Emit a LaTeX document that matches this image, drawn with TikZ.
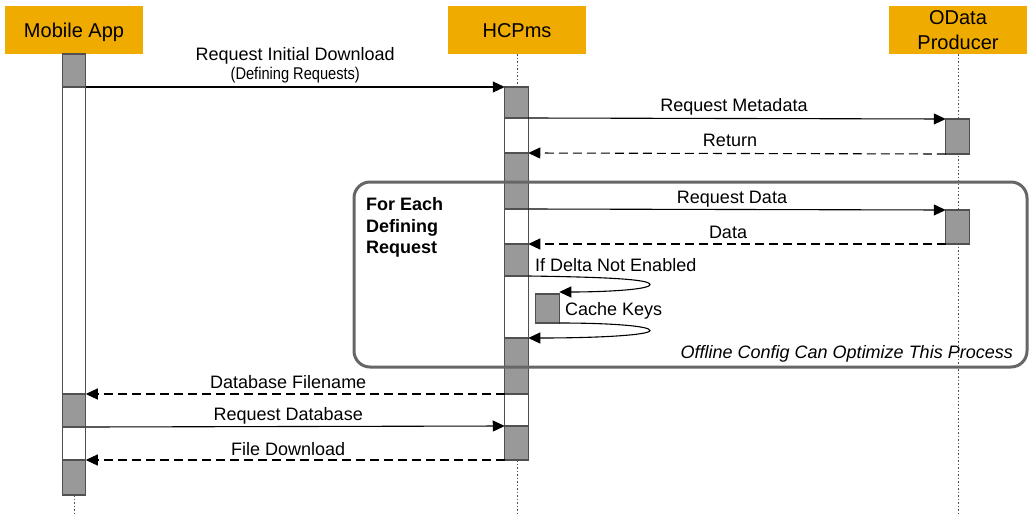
\documentclass[tikz,border=0pt]{standalone}
\usepackage{fontspec}
\setmainfont{Liberation Sans}
\newfontfamily\narrowfont{Liberation Sans}[FakeStretch=0.86]
\usetikzlibrary{arrows.meta}

\tikzset{	SeqPx/.style={x=1pt,y=-1pt},
	HeadBox/.style={fill=sapGold,minimum width=138pt,minimum height=48pt,inner sep=0pt,
				align=center,font=\fontsize{20}{25}\selectfont},
	HeadOne/.style={HeadBox,text height=15pt,text depth=0pt},
	Life/.style={lineGray,line width=1pt,dash pattern=on 1.5pt off 2pt},
	ActBar/.style={draw=lineGray,line width=1.2pt,fill=white,minimum width=23.5pt,
				inner sep=0pt,outer sep=0pt,anchor=north},
	ActOn/.style={ActBar,fill=barGray},
	Msg/.style={->,black,line width=1.1pt},
	Reply/.style={Msg,dash pattern=on 9pt off 5pt},
	MsgLabel/.style={midway,anchor=base,yshift=6pt,inner sep=0pt,font=\fontsize{18}{22}\selectfont}
				}
\definecolor{sapGold}{RGB}{240,171,0}
\definecolor{barGray}{RGB}{153,153,153}
\definecolor{lineGray}{RGB}{80,80,80}
\definecolor{frameGray}{RGB}{102,102,102}

\begin{document}
\begin{tikzpicture}[>={Triangle[length=12pt,width=11pt]},SeqPx]

	\fill[white] (0,0) rectangle (1035,514);
	\useasboundingbox (0,0) rectangle (1035,514);

        % teilnehmer und lebenslinien
	\node[HeadOne] (mob) at (74,30) {Mobile App};
	\node[HeadOne] (hcp) at (517,30) {HCPms};
	\node[HeadBox] (odp) at (958,30) {OData\\Producer};

	\coordinate (mobEnd) at (74,514);
	\coordinate (hcpEnd) at (517,514);
	\coordinate (odpEnd) at (958,514);

        \draw[Life] (mob.south)--(mobEnd);
        \draw[Life] (hcp.south)--(hcpEnd);
        \draw[Life] (odp.south)--(odpEnd);

        % aktivierungsbalken
	\node[ActBar,minimum height=441pt] (mBar) at (74,54) {};
	\node[ActOn,minimum height=33pt] (m1) at (74,54) {};
	\node[ActOn,minimum height=33pt] (m2) at (74,394) {};
	\node[ActOn,minimum height=35pt] (m3) at (74,460) {};

	\node[ActBar,minimum height=373pt] (hBar) at (516.5,87) {};
	\node[ActOn,minimum height=31pt] (h1) at (516.5,87) {};
	\node[ActOn,minimum height=56pt] (h2) at (516.5,153) {};
	\node[ActOn,minimum height=32pt] (h3) at (516.5,244) {};
	\node[ActOn,minimum height=56pt] (h4) at (516.5,338) {};
	\node[ActOn,minimum height=34pt] (h5) at (516.5,426) {};

	\node[ActOn,minimum height=35pt] (o1) at (957.5,119) {};
	\node[ActOn,minimum height=34pt] (o2) at (957.5,210) {};

	\node[ActOn,minimum height=29pt] (ck) at (547.5,294) {};

        % nachrichten
        \draw[Msg] (m1.south east)--(h1.north west)
		node[MsgLabel,yshift=20.5pt]{Request Initial Download}
		node[MsgLabel,yshift=2pt,font=\narrowfont\fontsize{17}{19}\selectfont]{(Defining Requests)};
        \draw[Msg] (h1.south east)--(o1.north west) node[MsgLabel,xshift=-3pt,yshift=1.5pt]{Request Metadata};
        \draw[Reply] (o1.south west)--(h2.north east) node[MsgLabel,xshift=-7pt,yshift=1.5pt]{Return};
        \draw[Msg] (h2.south east)--(o2.north west) node[MsgLabel,xshift=-5pt]{Request Data};
        \draw[Reply] (o2.south west)--(h3.north east) node[MsgLabel,xshift=-9pt]{Data};

        \draw[Msg] (h3.south east) .. controls (600,277) and (650,279) .. (650,284.5)
		.. controls (650,290) and (600,292) .. ([yshift=2pt]ck.north east);
        \draw[Msg] (ck.south east) .. controls (610,323) and (650,326) .. (650,330.5)
		.. controls (650,335) and (600,338) .. (h4.north east);

        \draw[Reply] (h4.south west)--(m2.north east) node[MsgLabel,xshift=-7pt]{Database Filename};
        \draw[Msg] (m2.south east)--(h5.north west) node[MsgLabel,xshift=-7pt]{Request Database};
        \draw[Reply] (h5.south west)--(m3.north east) node[MsgLabel,xshift=-7pt,yshift=-1pt]{File Download};

        % schleifenrahmen
        \draw[frameGray,line width=3pt,rounded corners=16pt] (354,182) rectangle (1027,367);

	\node[anchor=north west,inner sep=0pt,align=left,font=\bfseries\fontsize{18}{21.5}\selectfont]
		(loopTxt) at (366,197.5) {For Each\\Defining\\Request};
	\node[anchor=base west,inner sep=0pt,font=\fontsize{18}{22}\selectfont]
		(deltaTxt) at (535,271.5) {If Delta Not Enabled};
	\node[anchor=base west,inner sep=0pt,font=\fontsize{18}{22}\selectfont]
		(cacheTxt) at (565,315) {Cache Keys};
	\node[anchor=base east,inner sep=0pt,font=\itshape\fontsize{18}{22}\selectfont]
		(optTxt) at (1013,358.5) {Offline Config Can Optimize This Process};
\end{tikzpicture}
\end{document}
